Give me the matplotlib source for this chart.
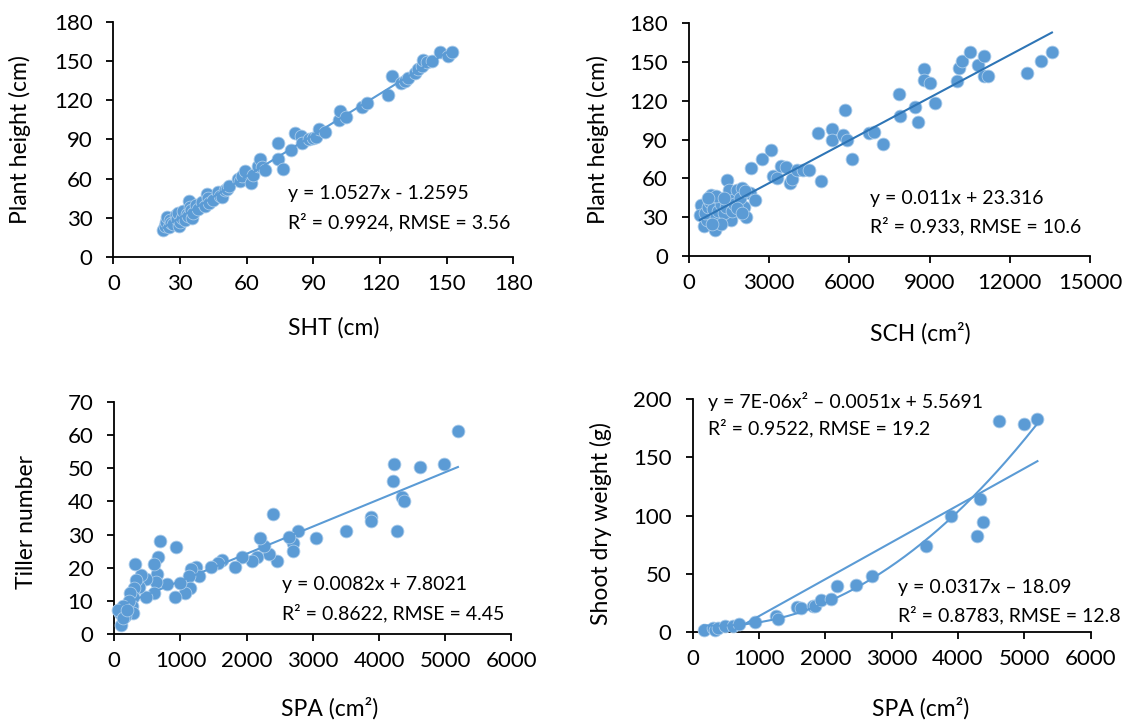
import numpy as np
import matplotlib
matplotlib.use("Agg")
import matplotlib.pyplot as plt

plt.rcParams['font.family'] = ['Lato', 'DejaVu Sans']

BLUE = '#5B9BD5'
DARK = '#2E75B6'

# Panel A: SHT vs plant height
sht_x = [22.5, 23, 23.5, 24, 25, 25.5, 26, 27, 28, 28.5, 29, 29.5, 30, 31, 31.5, 32, 33, 33.5, 34, 34.5,
         35, 35.5, 36, 37, 38, 40, 41, 42, 42.5, 43, 45, 47, 48, 49, 50, 51, 52, 56, 57, 58, 59, 62, 63,
         65, 66, 67, 68, 74, 74, 76.5, 80, 81.5, 84.5, 85, 88, 90, 91, 92.5, 95, 101.5, 102, 104.5, 112,
         114, 123.5, 125.5, 129.5, 131, 132.5, 135.5, 137, 139, 139.5, 141, 143.5, 147, 150.5, 152.5]
sht_y = [21, 24, 27, 30.5, 23, 28, 26, 25, 32, 29, 34, 24, 27, 30, 35, 28, 33, 31, 43, 38,
         36, 30, 34, 40, 37, 42, 39, 48, 45, 41, 44, 50, 47, 46, 51, 52, 54, 60, 58, 62, 66, 57, 63,
         70, 75, 69, 67, 87, 75, 67.5, 82, 95, 93, 87, 90, 91, 92, 98, 96, 105, 112, 107, 115,
         118, 124, 139, 133, 135, 137, 141, 144, 146, 151, 149, 150, 157, 154, 157]

# Panel B: SCH vs plant height
sch_x = [454, 413, 578, 688, 825, 963, 1032, 1170, 1444, 1513, 1582, 1651, 1788, 1995, 2063, 2132, 2270,
         2339, 2476, 2751, 3067, 3136, 3301, 3439, 3618, 3783, 3851, 4057, 4264, 4512, 4842, 4924, 5364,
         5364, 5777, 5846, 5915, 6094, 6740, 6919, 7249, 7840, 7909, 8460, 8570, 8776, 8803, 9010, 9188,
         10014, 10110, 10220, 10523, 10798, 11031, 11045, 11169, 12627, 13177, 13576,
         600, 700, 800, 900, 1000, 1100, 1200, 1300, 1400, 1600, 1700, 1900, 1000, 1200, 700, 850, 1300,
         1800, 2100, 2000]
sch_y = [39.5, 31.7, 23.2, 27.9, 47.2, 20.1, 43.3, 27.9, 58.8, 51, 27.9, 43.3, 51, 52.3, 38.2, 30.4, 48.5,
         67.8, 43.3, 74.8, 82, 62.1, 60, 69.9, 69.1, 56.7, 59.6, 66.5, 66.5, 66.5, 94.9, 58, 98,
         89.7, 93.6, 113, 89.7, 75, 94.9, 95.7, 86.4, 125, 107.8, 115.5, 103.7, 144.7, 136.2, 133.6, 118.1,
         135.4, 145.2, 150.3, 157.3, 147.7, 154.7, 138.7, 138.7, 141.3, 150.8, 157.6,
         33, 38, 42, 36, 30, 35, 40, 33, 38, 35, 40, 45, 46, 25, 45, 25, 45,
         37, 50, 33]

# Panel C: SPA vs tiller number
spa_t_x = [5192, 4981, 4625, 4225, 4209, 4344, 4371, 4274, 3886, 3886, 3508, 3049, 2779, 2698, 2698, 2644,
           2391, 2455, 2331, 2266, 2196, 2159, 2078, 1927, 1819, 1630, 1565, 1468, 1241, 1279, 1160, 1122,
           1144, 1069, 998, 917, 928, 799, 691, 664, 648, 632, 605, 594, 475, 475, 405, 378, 324, 308,
           297, 281, 270, 281, 243, 216, 162, 135, 108, 81, 60, 135, 189]
spa_t_y = [61.2, 51.2, 50.3, 51.2, 46.1, 41.4, 40.2, 31.1, 35.4, 34.1, 31.2, 29.1, 31.1, 27.4, 25.1, 29.4,
           36.1, 22.1, 24.2, 26.4, 29.1, 23.2, 22.1, 23.1, 20.1, 22.4, 21.4, 20.1, 20.2, 17.4, 19.6, 17.4,
           13.8, 12.3, 15.3, 11.1, 26.1, 15.1, 28.1, 23.1, 18.2, 15.8, 21.2, 12.3, 16.5, 11.3, 17.9, 14.3,
           16.3, 21.1, 13.8, 11.3, 8.5, 6.3, 12.3, 9.8, 5.3, 8.3, 2.8, 6.3, 7.3, 4.8, 7.3]

# Panel D: SPA vs shoot dry weight
spa_w_x = [166, 305, 333, 388, 483, 610, 693, 943, 1259, 1287, 1581, 1636, 1819, 1847, 1941, 2091, 2174,
           2457, 2707, 3511, 3894, 4282, 4337, 4370, 4620, 4992, 5197]
spa_w_y = [1.4, 3.4, 2, 3.4, 4.9, 5.4, 6.9, 8.6, 14, 11.4, 21.2, 20.6, 22.6, 22, 27.2, 28.3, 39.2,
           40.1, 48.4, 73.5, 99.9, 82.1, 114.4, 94.1, 180.8, 178.5, 182.8]

fig = plt.figure(figsize=(11.37, 7.21), dpi=100)

axes_rects = [
    [0.0998, 0.6436, 0.3518, 0.3259],
    [0.6058, 0.6449, 0.3529, 0.3232],
    [0.1005, 0.1207, 0.3493, 0.3218],
    [0.6091, 0.1234, 0.3502, 0.3232],
]

TICK_FS = 16
LAB_FS = 16.5
ANN_FS = 14
MS = 85


def style(ax, xmax, xstep, ymax, ystep):
    ax.set_xlim(0, xmax)
    ax.set_ylim(0, ymax)
    ax.set_xticks(np.arange(0, xmax + 1, xstep))
    ax.set_yticks(np.arange(0, ymax + 1, ystep))
    for s in ['top', 'right']:
        ax.spines[s].set_visible(False)
    for s in ['left', 'bottom']:
        ax.spines[s].set_linewidth(1.3)
        ax.spines[s].set_color('black')
    ax.tick_params(direction='out', length=5, width=1.3, labelsize=TICK_FS)
    ax.tick_params(axis='x', pad=7)
    ax.tick_params(axis='y', pad=10)


def scatter(ax, x, y):
    ax.scatter(x, y, s=MS, color=BLUE, edgecolors='#A9CBEA', linewidths=0.6, zorder=3, clip_on=False)


def labels(ax, xl, yl, xpos, ypos):
    ax.set_xlabel(xl, fontsize=LAB_FS, va='center')
    ax.set_ylabel(yl, fontsize=LAB_FS, va='center')
    ax.xaxis.set_label_coords(*xpos)
    ax.yaxis.set_label_coords(*ypos)


# Panel A
ax = fig.add_axes(axes_rects[0])
style(ax, 180, 30, 180, 30)
scatter(ax, sht_x, sht_y)
xx = np.linspace(min(sht_x), max(sht_x), 50)
ax.plot(xx, 1.0527 * xx - 1.2595, color=BLUE, lw=1.5, zorder=4)
ax.text(78.6, 48.3, 'y = 1.0527x - 1.2595', fontsize=ANN_FS, va='center', ha='left')
ax.text(78.6, 26.8, 'R² = 0.9924, RMSE = 3.56', fontsize=ANN_FS, va='center', ha='left')
labels(ax, 'SHT (cm)', 'Plant height (cm)', (0.551, -0.302), (-0.233, 0.5))

# Panel B
ax = fig.add_axes(axes_rects[1])
style(ax, 15000, 3000, 180, 30)
scatter(ax, sch_x, sch_y)
xx = np.linspace(min(sch_x), max(sch_x), 50)
ax.plot(xx, 0.011 * xx + 23.316, color=DARK, lw=1.5, zorder=4)
ax.text(6777, 44.8, 'y = 0.011x + 23.316', fontsize=ANN_FS, va='center', ha='left')
ax.text(6777, 23.2, 'R² = 0.933, RMSE = 10.6', fontsize=ANN_FS, va='center', ha='left')
labels(ax, 'SCH (cm²)', 'Plant height (cm)', (0.578, -0.33), (-0.226, 0.5))

# Panel C
ax = fig.add_axes(axes_rects[2])
style(ax, 6000, 1000, 70, 10)
scatter(ax, spa_t_x, spa_t_y)
xx = np.linspace(min(spa_t_x), max(spa_t_x), 50)
ax.plot(xx, 0.0082 * xx + 7.8021, color=BLUE, lw=1.5, zorder=4)
ax.text(2530, 14.8, 'y = 0.0082x + 7.8021', fontsize=ANN_FS, va='center', ha='left')
ax.text(2530, 6.3, 'R² = 0.8622, RMSE = 4.45', fontsize=ANN_FS, va='center', ha='left')
labels(ax, 'SPA (cm²)', 'Tiller number', (0.543, -0.319), (-0.222, 0.483))

# Panel D
ax = fig.add_axes(axes_rects[3])
style(ax, 6000, 1000, 200, 50)
scatter(ax, spa_w_x, spa_w_y)
xx = np.linspace(min(spa_w_x), max(spa_w_x), 200)
ax.plot(xx, 0.0317 * xx - 18.09, color=BLUE, lw=1.5, zorder=4)
coef = np.polyfit(spa_w_x, spa_w_y, 2)
ax.plot(xx, np.polyval(coef, xx), color=BLUE, lw=1.5, zorder=4)
ax.text(233, 198, 'y = 7E-06x² – 0.0051x + 5.5691', fontsize=ANN_FS, va='center', ha='left')
ax.text(233, 175, 'R² = 0.9522, RMSE = 19.2', fontsize=ANN_FS, va='center', ha='left')
ax.text(3091, 38.6, 'y = 0.0317x – 18.09', fontsize=ANN_FS, va='center', ha='left')
ax.text(3091, 14.6, 'R² = 0.8783, RMSE = 12.8', fontsize=ANN_FS, va='center', ha='left')
labels(ax, 'SPA (cm²)', 'Shoot dry weight (g)', (0.573, -0.326), (-0.23, 0.464))

fig.savefig('out.png', dpi=100)
